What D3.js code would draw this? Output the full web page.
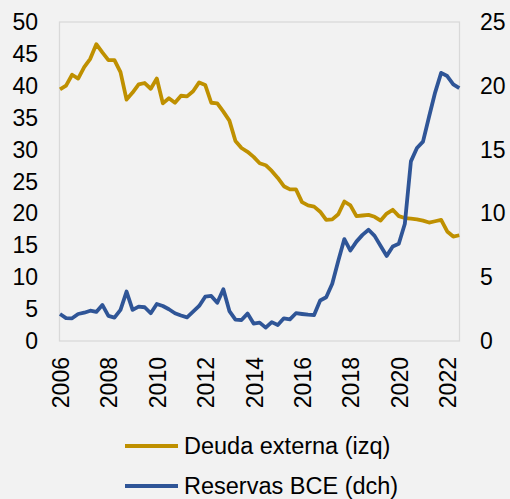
<!DOCTYPE html>
<html>
<head>
<meta charset="utf-8">
<script src="https://cdnjs.cloudflare.com/ajax/libs/d3/7.8.5/d3.min.js"></script>
<style>
  body { margin: 0; background: #f2f2f2; }
  svg { display: block; }
  text { font-family: "Liberation Sans", Arial, sans-serif; fill: #000; }
</style>
</head>
<body>
<svg></svg>
<script>
// quarterly data, 2006T1 - 2022T3
var years = ["2006", "2007", "2008", "2009", "2010", "2011", "2012", "2013", "2014",
    "2015", "2016", "2017", "2018", "2019", "2020", "2021", "2022"];
var quarters = [];
years.forEach(function(y) {
    ["T1", "T2", "T3", "T4"].forEach(function(q) { quarters.push(y + q); });
});
quarters = quarters.slice(0, 67);

var xTickLabels = ["2006", "2008", "2010", "2012", "2014", "2016", "2018", "2020", "2022"];

var deuda = [39.5, 40.1, 41.8, 41.2, 43.0, 44.3, 46.6, 45.3, 44.1, 44.1,
    42.2, 37.9, 39.0, 40.3, 40.5, 39.6, 41.2, 37.3, 38.1, 37.4,
    38.5, 38.4, 39.2, 40.6, 40.2, 37.4, 37.3, 36.0, 34.6, 31.4,
    30.3, 29.7, 28.9, 27.9, 27.6, 26.7, 25.6, 24.3, 23.8, 23.8,
    21.8, 21.3, 21.1, 20.3, 19.0, 19.1, 19.9, 21.9, 21.3, 19.6,
    19.7, 19.8, 19.5, 18.9, 20.0, 20.6, 19.6, 19.3, 19.2, 19.1,
    18.9, 18.6, 18.8, 19.0, 17.2, 16.4, 16.6];

var reservas = [2.12, 1.8, 1.78, 2.12, 2.22, 2.38, 2.28, 2.83, 1.97, 1.83,
    2.44, 3.88, 2.44, 2.70, 2.65, 2.18, 2.91, 2.75, 2.49, 2.18,
    2.0, 1.86, 2.3, 2.75, 3.48, 3.54, 3.0, 4.06, 2.35, 1.68,
    1.65, 2.15, 1.37, 1.44, 1.05, 1.48, 1.26, 1.78, 1.7, 2.18,
    2.12, 2.07, 2.04, 3.18, 3.43, 4.5, 6.3, 8.0, 7.1, 7.8,
    8.33, 8.73, 8.25, 7.45, 6.68, 7.42, 7.63, 9.2, 14.1, 15.15,
    15.65, 17.6, 19.5, 21.05, 20.8, 20.15, 19.85];

var leftTicks = [0, 5, 10, 15, 20, 25, 30, 35, 40, 45, 50];
var rightTicks = [0, 5, 10, 15, 20, 25];
var legendLabels = ["Deuda externa (izq)", "Reservas BCE (dch)"];
var colors = ["#bf9000", "#2f5597"];

var width = 510,
    height = 499;
var plotLeft = 59.5,
    plotRight = 459.5,
    plotTop = 22,
    plotBottom = 341;

var svg = d3.select("svg")
    .attr("width", width)
    .attr("height", height);

var x = d3.scalePoint()
    .domain(quarters)
    .range([plotLeft + 0.5, plotRight - 0.2]);

var yLeft = d3.scaleLinear()
    .domain([0, 50])
    .range([plotBottom, plotTop + 0.5]);

var yRight = d3.scaleLinear()
    .domain([0, 25])
    .range([plotBottom, plotTop + 0.5]);

// plot frame
svg.append("rect")
    .attr("x", plotLeft)
    .attr("y", plotTop)
    .attr("width", plotRight - plotLeft)
    .attr("height", plotBottom - plotTop)
    .attr("fill", "none")
    .attr("stroke", "#d9d9d9")
    .attr("stroke-width", 1.3);

// left axis
var axL = svg.append("g")
    .attr("transform", "translate(" + plotLeft + ",0)")
    .call(d3.axisLeft(yLeft).tickValues(leftTicks).tickSize(0).tickPadding(21.5));
axL.select(".domain").remove();
axL.selectAll("text").style("font-size", "23px");

// right axis
var axR = svg.append("g")
    .attr("transform", "translate(" + plotRight + ",0)")
    .call(d3.axisRight(yRight).tickValues(rightTicks).tickSize(0).tickPadding(20.5));
axR.select(".domain").remove();
axR.selectAll("text").style("font-size", "23px");

// x labels, rotated, every second year
svg.selectAll(".xlab")
    .data(xTickLabels)
    .enter()
    .append("text")
    .attr("class", "xlab")
    .attr("transform", function(d) {
        return "translate(" + (x(d + "T1") + 1) + ",357) rotate(-90)";
    })
    .attr("text-anchor", "end")
    .attr("dy", "0.35em")
    .style("font-size", "23px")
    .text(function(d) { return d; });

// lines
var lineL = d3.line()
    .x(function(d, i) { return x(quarters[i]); })
    .y(function(d) { return yLeft(d); });

var lineR = d3.line()
    .x(function(d, i) { return x(quarters[i]); })
    .y(function(d) { return yRight(d); });

svg.append("path")
    .datum(deuda)
    .attr("d", lineL)
    .attr("fill", "none")
    .attr("stroke", colors[0])
    .attr("stroke-width", 3.8)
    .attr("stroke-linejoin", "round");

svg.append("path")
    .datum(reservas)
    .attr("d", lineR)
    .attr("fill", "none")
    .attr("stroke", colors[1])
    .attr("stroke-width", 3.8)
    .attr("stroke-linejoin", "round");

// legend
var legend = svg.selectAll(".leg")
    .data(legendLabels)
    .enter()
    .append("g")
    .attr("class", "leg")
    .attr("transform", function(d, i) {
        return "translate(0," + (446 + i * 40) + ")";
    });

legend.append("line")
    .attr("x1", 125)
    .attr("x2", 178)
    .attr("stroke", function(d, i) { return colors[i]; })
    .attr("stroke-width", 3.8);

legend.append("text")
    .attr("x", 184)
    .attr("dy", "0.35em")
    .style("font-size", "23.5px")
    .text(function(d) { return d; });
</script>
</body>
</html>
